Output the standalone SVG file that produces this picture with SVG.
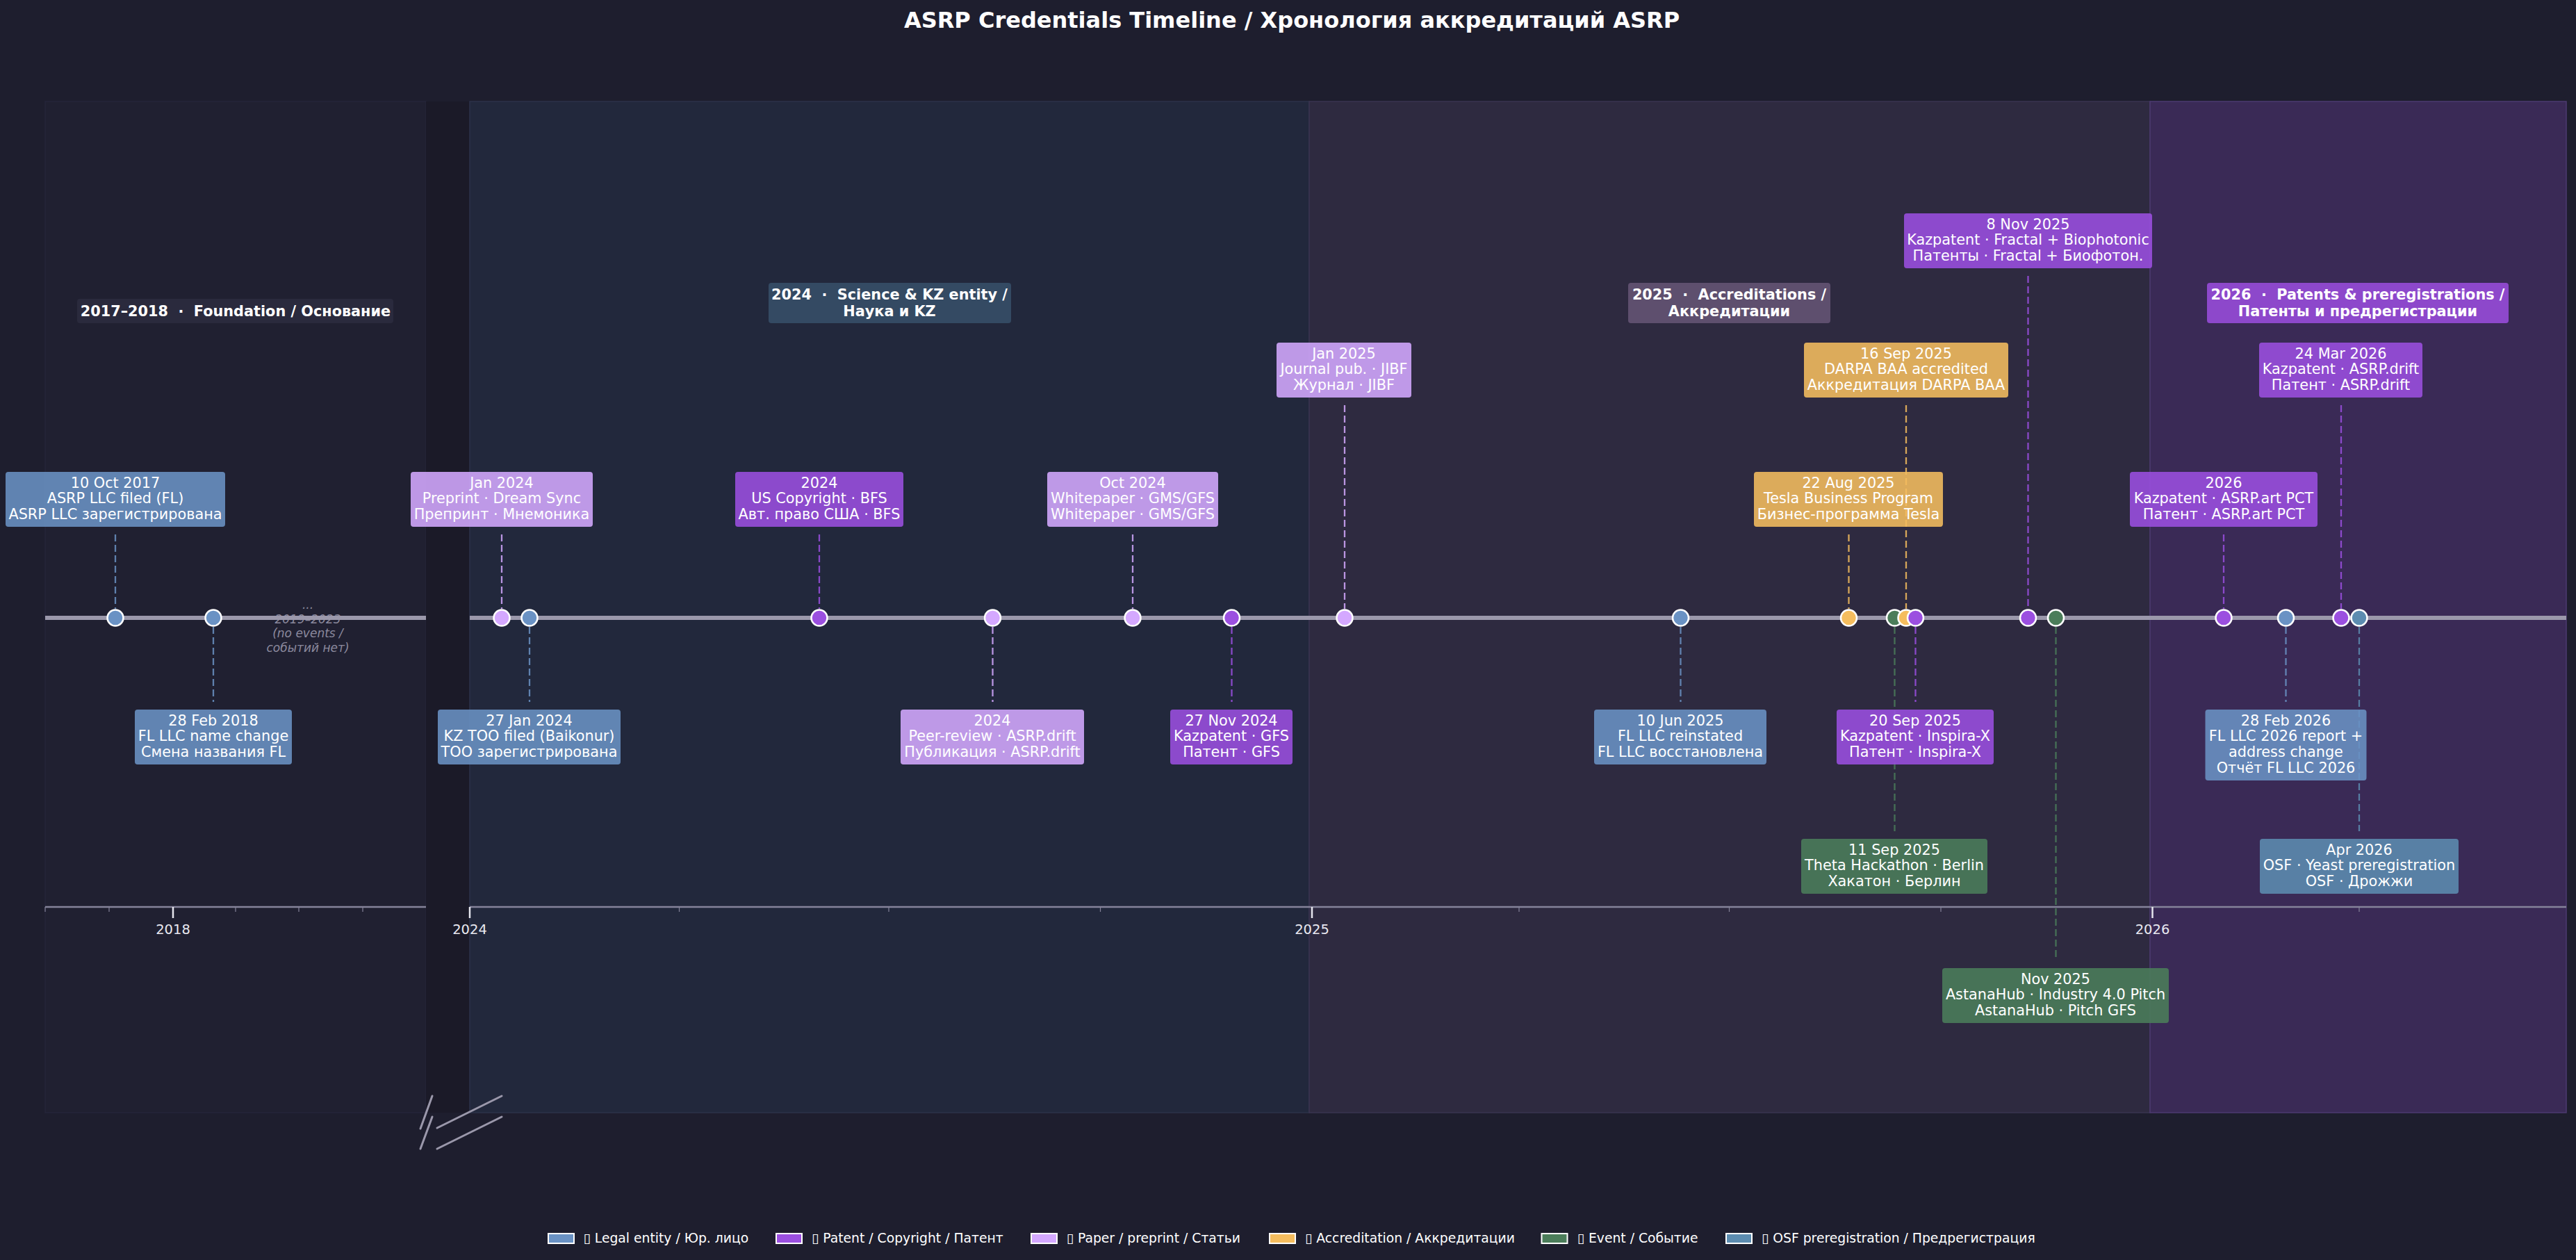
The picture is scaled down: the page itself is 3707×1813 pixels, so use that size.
<svg xmlns="http://www.w3.org/2000/svg" width="3707" height="1813" viewBox="0 0 3707 1813">
<defs>
<style>
text{font-family:"DejaVu Sans","Noto Sans",sans-serif;fill:#ffffff}
.title{font-size:32px;font-weight:bold;text-anchor:middle}
.ev{font-size:20.8px;text-anchor:middle}
.hd{font-size:20.8px;font-weight:bold;text-anchor:middle}
.tick{font-size:19.5px;text-anchor:middle;fill:#e8e8f0}
.leg{font-size:18.75px}
.gap{font-size:17px;font-style:italic;text-anchor:middle;fill:#8c8a9e}
.stem{stroke-width:2.3;stroke-dasharray:10 5;fill:none;opacity:.85}
.box{opacity:.88}
.legal{fill:#6a92c4;stroke:#6a92c4}
.patent{fill:#9b4fe0;stroke:#9b4fe0}
.paper{fill:#d4a8ff;stroke:#d4a8ff}
.accred{fill:#f5bd5e;stroke:#f5bd5e}
.event{fill:#4b7d5a;stroke:#4b7d5a}
.osf{fill:#5c8cb0;stroke:#5c8cb0}
circle.dot{stroke:#ffffff;stroke-width:2.5}
rect.box{stroke:none}
rect.sw{stroke:#ffffff;stroke-width:2}
.axis{stroke:#9b98ab;stroke-width:6}
.dax{stroke:#85839a;stroke-width:2.5}
.maj{stroke:#e6e6ee;stroke-width:2.5}
.min{stroke:#85839a;stroke-width:1.2}
.brk{stroke:#9b98ab;stroke-width:3;stroke-linecap:round}
</style>
</defs>
<rect width="3707" height="1813" fill="#1e1e2e"/>

<g id="panels">
<rect x="65" y="146" width="548" height="1455" fill="#202031" stroke="#25253a" stroke-width="1.5"/>
<rect x="613" y="146" width="63" height="1455" fill="#1b1a28"/>
<rect x="676" y="146" width="1208" height="1455" fill="#22283c" stroke="#2c3249" stroke-width="1.5"/>
<rect x="1884" y="146" width="1210" height="1455" fill="#2e2a40" stroke="#3a3550" stroke-width="1.5"/>
<rect x="3094" y="146" width="599" height="1455" fill="#3a2a56" stroke="#4c3a70" stroke-width="1.5"/>
</g>

<text class="title" x="1859" y="40">ASRP Credentials Timeline / Хронология аккредитаций ASRP</text>

<g id="phase-headers">
<g id="hdr-2017">
<rect x="111" y="430" width="455" height="35" rx="4" fill="#2a2a3d"/>
<text class="hd" x="339" y="454.6" xml:space="preserve">2017–2018  ·  Foundation / Основание</text>
</g>
<g id="hdr-2024">
<rect x="1106" y="407" width="349" height="58" rx="4" fill="#344a63"/>
<text class="hd" x="1280" y="430.6" xml:space="preserve">2024  ·  Science &amp; KZ entity /</text>
<text class="hd" x="1280" y="454.6">Наука и KZ</text>
</g>
<g id="hdr-2025">
<rect x="2343" y="407" width="291" height="58" rx="4" fill="#5e4f6e"/>
<text class="hd" x="2488.5" y="430.6" xml:space="preserve">2025  ·  Accreditations /</text>
<text class="hd" x="2488.5" y="454.6">Аккредитации</text>
</g>
<g id="hdr-2026">
<rect x="3176" y="407" width="434" height="58" rx="4" fill="#8d48cb"/>
<text class="hd" x="3393" y="430.6" xml:space="preserve">2026  ·  Patents &amp; preregistrations /</text>
<text class="hd" x="3393" y="454.6">Патенты и предрегистрации</text>
</g>
</g>

<g id="gap-note">
<text class="gap" x="443" y="876">...</text>
<text class="gap" x="443" y="896.5">2019–2023</text>
<text class="gap" x="443" y="917">(no events /</text>
<text class="gap" x="443" y="937.5">событий нет)</text>
</g>

<g id="date-axis">
<line class="dax" x1="65" y1="1305" x2="613" y2="1305"/>
<line class="dax" x1="676" y1="1305" x2="3693" y2="1305"/>
<g>
<line class="min" x1="65" y1="1305" x2="65" y2="1312"/>
<line class="min" x1="157" y1="1305" x2="157" y2="1312"/>
<line class="min" x1="339" y1="1305" x2="339" y2="1312"/>
<line class="min" x1="430" y1="1305" x2="430" y2="1312"/>
<line class="min" x1="522" y1="1305" x2="522" y2="1312"/>
<line class="min" x1="977.5" y1="1305" x2="977.5" y2="1312"/>
<line class="min" x1="1279" y1="1305" x2="1279" y2="1312"/>
<line class="min" x1="1583.5" y1="1305" x2="1583.5" y2="1312"/>
<line class="min" x1="2186" y1="1305" x2="2186" y2="1312"/>
<line class="min" x1="2488.5" y1="1305" x2="2488.5" y2="1312"/>
<line class="min" x1="2793" y1="1305" x2="2793" y2="1312"/>
<line class="min" x1="3395" y1="1305" x2="3395" y2="1312"/>
</g>
<line class="maj" x1="249" y1="1305" x2="249" y2="1321"/>
<line class="maj" x1="676" y1="1305" x2="676" y2="1321"/>
<line class="maj" x1="1888" y1="1305" x2="1888" y2="1321"/>
<line class="maj" x1="3097.5" y1="1305" x2="3097.5" y2="1321"/>
<text class="tick" x="249" y="1344">2018</text>
<text class="tick" x="676" y="1344">2024</text>
<text class="tick" x="1888" y="1344">2025</text>
<text class="tick" x="3097.5" y="1344">2026</text>
</g>

<g id="axis-break">
<line class="brk" x1="622" y1="1577" x2="605" y2="1624"/>
<line class="brk" x1="622" y1="1607" x2="605" y2="1653"/>
<line class="brk" x1="722" y1="1577" x2="629" y2="1623"/>
<line class="brk" x1="722" y1="1607" x2="629" y2="1653"/>
</g>

<g id="timeline-axis">
<line class="axis" x1="65" y1="889" x2="613" y2="889"/>
<line class="axis" x1="676" y1="889" x2="3693" y2="889"/>
</g>

<g id="connectors">
<line class="stem legal" x1="166" y1="769" x2="166" y2="876"/>
<line class="stem legal" x1="307" y1="902" x2="307" y2="1010"/>
<line class="stem paper" x1="722" y1="769" x2="722" y2="876"/>
<line class="stem legal" x1="762" y1="902" x2="762" y2="1010"/>
<line class="stem patent" x1="1179" y1="769" x2="1179" y2="876"/>
<line class="stem paper" x1="1428.5" y1="902" x2="1428.5" y2="1010"/>
<line class="stem paper" x1="1630" y1="769" x2="1630" y2="876"/>
<line class="stem patent" x1="1772.5" y1="902" x2="1772.5" y2="1010"/>
<line class="stem paper" x1="1935" y1="583" x2="1935" y2="876"/>
<line class="stem legal" x1="2418.5" y1="902" x2="2418.5" y2="1010"/>
<line class="stem accred" x1="2660.5" y1="769" x2="2660.5" y2="876"/>
<line class="stem event" x1="2726.5" y1="902" x2="2726.5" y2="1196"/>
<line class="stem accred" x1="2743" y1="583" x2="2743" y2="876"/>
<line class="stem patent" x1="2756.5" y1="902" x2="2756.5" y2="1010"/>
<line class="stem patent" x1="2918.5" y1="397" x2="2918.5" y2="876"/>
<line class="stem event" x1="2958.5" y1="902" x2="2958.5" y2="1382"/>
<line class="stem patent" x1="3200" y1="769" x2="3200" y2="876"/>
<line class="stem legal" x1="3289.5" y1="902" x2="3289.5" y2="1010"/>
<line class="stem patent" x1="3369" y1="583" x2="3369" y2="876"/>
<line class="stem osf" x1="3395" y1="902" x2="3395" y2="1196"/>
</g>

<g id="ev-2017-10-10">
<rect class="box legal" x="8" y="679" width="316" height="79" rx="4"/>
<text class="ev" x="166" y="701.5">10 Oct 2017</text>
<text class="ev" x="166" y="724.3">ASRP LLC filed (FL)</text>
<text class="ev" x="166" y="747.1">ASRP LLC зарегистрирована</text>
<circle class="dot legal" cx="166" cy="889" r="11.5"/>
</g>
<g id="ev-2018-02-28">
<rect class="box legal" x="194" y="1021" width="226" height="79" rx="4"/>
<text class="ev" x="307" y="1043.5">28 Feb 2018</text>
<text class="ev" x="307" y="1066.3">FL LLC name change</text>
<text class="ev" x="307" y="1089.1">Смена названия FL</text>
<circle class="dot legal" cx="307" cy="889" r="11.5"/>
</g>
<g id="ev-2024-01-preprint">
<rect class="box paper" x="591" y="679" width="262" height="79" rx="4"/>
<text class="ev" x="722" y="701.5">Jan 2024</text>
<text class="ev" x="722" y="724.3">Preprint · Dream Sync</text>
<text class="ev" x="722" y="747.1">Препринт · Мнемоника</text>
<circle class="dot paper" cx="722" cy="889" r="11.5"/>
</g>
<g id="ev-2024-01-27">
<rect class="box legal" x="630" y="1021" width="263" height="79" rx="4"/>
<text class="ev" x="761.5" y="1043.5">27 Jan 2024</text>
<text class="ev" x="761.5" y="1066.3">KZ TOO filed (Baikonur)</text>
<text class="ev" x="761.5" y="1089.1">ТОО зарегистрирована</text>
<circle class="dot legal" cx="762" cy="889" r="11.5"/>
</g>
<g id="ev-2024-copyright">
<rect class="box patent" x="1058" y="679" width="242" height="79" rx="4"/>
<text class="ev" x="1179" y="701.5">2024</text>
<text class="ev" x="1179" y="724.3">US Copyright · BFS</text>
<text class="ev" x="1179" y="747.1">Авт. право США · BFS</text>
<circle class="dot patent" cx="1179" cy="889" r="11.5"/>
</g>
<g id="ev-2024-peer-review">
<rect class="box paper" x="1296" y="1021" width="264" height="79" rx="4"/>
<text class="ev" x="1428" y="1043.5">2024</text>
<text class="ev" x="1428" y="1066.3">Peer-review · ASRP.drift</text>
<text class="ev" x="1428" y="1089.1">Публикация · ASRP.drift</text>
<circle class="dot paper" cx="1428.5" cy="889" r="11.5"/>
</g>
<g id="ev-2024-10">
<rect class="box paper" x="1507" y="679" width="246" height="79" rx="4"/>
<text class="ev" x="1630" y="701.5">Oct 2024</text>
<text class="ev" x="1630" y="724.3">Whitepaper · GMS/GFS</text>
<text class="ev" x="1630" y="747.1">Whitepaper · GMS/GFS</text>
<circle class="dot paper" cx="1630" cy="889" r="11.5"/>
</g>
<g id="ev-2024-11-27">
<rect class="box patent" x="1684" y="1021" width="176" height="79" rx="4"/>
<text class="ev" x="1772" y="1043.5">27 Nov 2024</text>
<text class="ev" x="1772" y="1066.3">Kazpatent · GFS</text>
<text class="ev" x="1772" y="1089.1">Патент · GFS</text>
<circle class="dot patent" cx="1772.5" cy="889" r="11.5"/>
</g>
<g id="ev-2025-01">
<rect class="box paper" x="1837" y="493" width="194" height="79" rx="4"/>
<text class="ev" x="1934" y="515.5">Jan 2025</text>
<text class="ev" x="1934" y="538.3">Journal pub. · JIBF</text>
<text class="ev" x="1934" y="561.1">Журнал · JIBF</text>
<circle class="dot paper" cx="1935" cy="889" r="11.5"/>
</g>
<g id="ev-2025-06-10">
<rect class="box legal" x="2294" y="1021" width="248" height="79" rx="4"/>
<text class="ev" x="2418" y="1043.5">10 Jun 2025</text>
<text class="ev" x="2418" y="1066.3">FL LLC reinstated</text>
<text class="ev" x="2418" y="1089.1">FL LLC восстановлена</text>
<circle class="dot legal" cx="2418.5" cy="889" r="11.5"/>
</g>
<g id="ev-2025-08-22">
<rect class="box accred" x="2524" y="679" width="272" height="79" rx="4"/>
<text class="ev" x="2660" y="701.5">22 Aug 2025</text>
<text class="ev" x="2660" y="724.3">Tesla Business Program</text>
<text class="ev" x="2660" y="747.1">Бизнес-программа Tesla</text>
<circle class="dot accred" cx="2660.5" cy="889" r="11.5"/>
</g>
<g id="ev-2025-09-11">
<rect class="box event" x="2592" y="1207" width="268" height="79" rx="4"/>
<text class="ev" x="2726" y="1229.5">11 Sep 2025</text>
<text class="ev" x="2726" y="1252.3">Theta Hackathon · Berlin</text>
<text class="ev" x="2726" y="1275.1">Хакатон · Берлин</text>
<circle class="dot event" cx="2726.5" cy="889" r="11.5"/>
</g>
<g id="ev-2025-09-16">
<rect class="box accred" x="2596" y="493" width="294" height="79" rx="4"/>
<text class="ev" x="2743" y="515.5">16 Sep 2025</text>
<text class="ev" x="2743" y="538.3">DARPA BAA accredited</text>
<text class="ev" x="2743" y="561.1">Аккредитация DARPA BAA</text>
<circle class="dot accred" cx="2743" cy="889" r="11.5"/>
</g>
<g id="ev-2025-09-20">
<rect class="box patent" x="2643" y="1021" width="226" height="79" rx="4"/>
<text class="ev" x="2756" y="1043.5">20 Sep 2025</text>
<text class="ev" x="2756" y="1066.3">Kazpatent · Inspira-X</text>
<text class="ev" x="2756" y="1089.1">Патент · Inspira-X</text>
<circle class="dot patent" cx="2756.5" cy="889" r="11.5"/>
</g>
<g id="ev-2025-11-08">
<rect class="box patent" x="2740" y="307" width="357" height="79" rx="4"/>
<text class="ev" x="2918.5" y="329.5">8 Nov 2025</text>
<text class="ev" x="2918.5" y="352.3">Kazpatent · Fractal + Biophotonic</text>
<text class="ev" x="2918.5" y="375.1">Патенты · Fractal + Биофотон.</text>
<circle class="dot patent" cx="2918.5" cy="889" r="11.5"/>
</g>
<g id="ev-2025-11-astanahub">
<rect class="box event" x="2795" y="1393" width="326" height="79" rx="4"/>
<text class="ev" x="2958" y="1415.5">Nov 2025</text>
<text class="ev" x="2958" y="1438.3">AstanaHub · Industry 4.0 Pitch</text>
<text class="ev" x="2958" y="1461.1">AstanaHub · Pitch GFS</text>
<circle class="dot event" cx="2958.5" cy="889" r="11.5"/>
</g>
<g id="ev-2026-pct">
<rect class="box patent" x="3065" y="679" width="270" height="79" rx="4"/>
<text class="ev" x="3200" y="701.5">2026</text>
<text class="ev" x="3200" y="724.3">Kazpatent · ASRP.art PCT</text>
<text class="ev" x="3200" y="747.1">Патент · ASRP.art PCT</text>
<circle class="dot patent" cx="3200" cy="889" r="11.5"/>
</g>
<g id="ev-2026-02-28">
<rect class="box legal" x="3173.5" y="1021" width="232" height="102" rx="4"/>
<text class="ev" x="3289.5" y="1043.5">28 Feb 2026</text>
<text class="ev" x="3289.5" y="1066.3">FL LLC 2026 report +</text>
<text class="ev" x="3289.5" y="1089.1">address change</text>
<text class="ev" x="3289.5" y="1111.9">Отчёт FL LLC 2026</text>
<circle class="dot legal" cx="3289.5" cy="889" r="11.5"/>
</g>
<g id="ev-2026-03-24">
<rect class="box patent" x="3251" y="493" width="235" height="79" rx="4"/>
<text class="ev" x="3368.5" y="515.5">24 Mar 2026</text>
<text class="ev" x="3368.5" y="538.3">Kazpatent · ASRP.drift</text>
<text class="ev" x="3368.5" y="561.1">Патент · ASRP.drift</text>
<circle class="dot patent" cx="3369" cy="889" r="11.5"/>
</g>
<g id="ev-2026-04">
<rect class="box osf" x="3252" y="1207" width="286" height="79" rx="4"/>
<text class="ev" x="3395" y="1229.5">Apr 2026</text>
<text class="ev" x="3395" y="1252.3">OSF · Yeast preregistration</text>
<text class="ev" x="3395" y="1275.1">OSF · Дрожжи</text>
<circle class="dot osf" cx="3395" cy="889" r="11.5"/>
</g>

<g id="legend">
<rect class="sw legal" x="789" y="1775" width="37" height="14"/>
<text class="leg" x="839.5" y="1788">▯ Legal entity / Юр. лицо</text>
<rect class="sw patent" x="1117" y="1775" width="37" height="14"/>
<text class="leg" x="1168" y="1788">▯ Patent / Copyright / Патент</text>
<rect class="sw paper" x="1484" y="1775" width="37" height="14"/>
<text class="leg" x="1534.7" y="1788">▯ Paper / preprint / Статьи</text>
<rect class="sw accred" x="1827" y="1775" width="37" height="14"/>
<text class="leg" x="1878" y="1788">▯ Accreditation / Аккредитации</text>
<rect class="sw event" x="2218.5" y="1775" width="37" height="14"/>
<text class="leg" x="2269.7" y="1788">▯ Event / Событие</text>
<rect class="sw osf" x="2484" y="1775" width="37" height="14"/>
<text class="leg" x="2535" y="1788">▯ OSF preregistration / Предрегистрация</text>
</g>
</svg>
